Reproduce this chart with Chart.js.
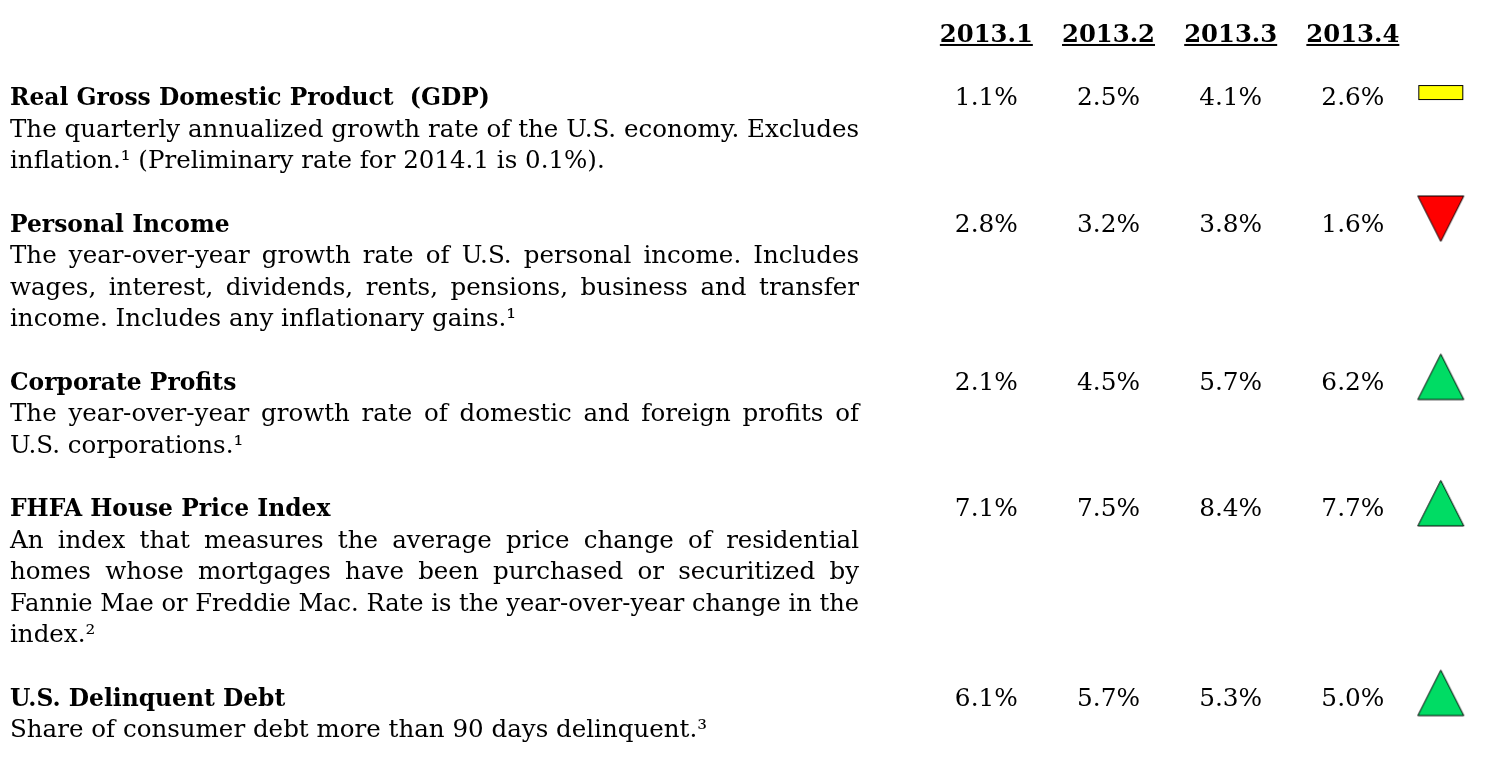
<!DOCTYPE html>
<html>
<head>
<meta charset="utf-8">
<script src="https://cdn.jsdelivr.net/npm/chart.js@4.4.1/dist/chart.umd.min.js"></script>
<style>
  html, body { margin: 0; padding: 0; background: #fff; overflow: hidden; }
  #wrap { width: 1487px; height: 759px; position: relative; }
  #chart { display: block; }
</style>
</head>
<body>
<div id="wrap"><canvas id="chart" width="1487" height="759"></canvas></div>
<script>
// ---- data ----
const quarters = ['2013.1', '2013.2', '2013.3', '2013.4'];
const indicators = [
    'Real Gross Domestic Product  (GDP)',
    'Personal Income',
    'Corporate Profits',
    'FHFA House Price Index',
    'U.S. Delinquent Debt'
];
const descriptions = [
    ['The quarterly annualized growth rate of the U.S. economy. Excludes',
     'inflation.\u00b9 (Preliminary rate for 2014.1 is 0.1%).'],
    ['The year-over-year growth rate of U.S. personal income. Includes',
     'wages, interest, dividends, rents, pensions, business and transfer',
     'income. Includes any inflationary gains.\u00b9'],
    ['The year-over-year growth rate of domestic and foreign profits of',
     'U.S. corporations.\u00b9'],
    ['An index that measures the average price change of residential',
     'homes whose mortgages have been purchased or securitized by',
     'Fannie Mae or Freddie Mac. Rate is the year-over-year change in the',
     'index.\u00b2'],
    ['Share of consumer debt more than 90 days delinquent.\u00b3']
];
const q2013_1 = [1.1, 2.8, 2.1, 7.1, 6.1];
const q2013_2 = [2.5, 3.2, 4.5, 7.5, 5.7];
const q2013_3 = [4.1, 3.8, 5.7, 8.4, 5.3];
const q2013_4 = [2.6, 1.6, 6.2, 7.7, 5.0];
const trend = ['flat', 'down', 'up', 'up', 'up'];

// ---- layout ----
const W = 1487, H = 759;
const LINE_H = 32.55, FIRST_BASE = 97;   // text grid
const COL_X = 990, COL_W = 124;          // first quarter column centre, column pitch
const TEXT_LEFT = 10, TEXT_RIGHT = 859;
const HEADER_LINE = -2;
const TREND_COL = 4.72, ICON_DY = -0.4;
const FONT = "'DejaVu Serif', serif";
// widths in the reference, used to size the fonts
const FIT_BODY = ['inflation.\u00b9 (Preliminary rate for 2014.1 is 0.1%).', 595];
const FIT_TITLE = ['Real Gross Domestic Product  (GDP)', 480];
const FIT_VALUE = ['1.1%', 63];
const FIT_HEAD = ['2013.1', 93];

// line index of each indicator title (title + desc lines + one blank line)
const rowLine = [];
let ln = 0;
descriptions.forEach(d => { rowLine.push(ln); ln += d.length + 2; });

// ---- trend icons ----
function makeIcon(kind) {
    const c = document.createElement('canvas');
    const g = c.getContext('2d');
    g.lineWidth = 2.5;
    g.strokeStyle = '#000';
    if (kind === 'flat') {
        c.width = 47; c.height = 17;
        g.fillStyle = '#ffff00';
        g.fillRect(1.5, 1.5, 44, 14);
        g.strokeRect(1.5, 1.5, 44, 14);
        return c;
    }
    c.width = 49; c.height = 49;
    g.beginPath();
    if (kind === 'down') {
        g.moveTo(1.5, 1.5); g.lineTo(47.5, 1.5); g.lineTo(24.5, 47);
        g.fillStyle = '#ff0000';
    } else {
        g.moveTo(24.5, 1.5); g.lineTo(47.5, 47); g.lineTo(1.5, 47);
        g.fillStyle = '#00dc64';
    }
    g.closePath();
    g.fill();
    g.stroke();
    return c;
}
const icons = { flat: makeIcon('flat'), down: makeIcon('down'), up: makeIcon('up') };

// ---- datasets ----
const quarterValues = [q2013_1, q2013_2, q2013_3, q2013_4];
const datasets = quarterValues.map((vals, c) => ({
    label: quarters[c],
    cells: true,
    data: vals.map((v, r) => ({ x: c + 1, y: rowLine[r], v: v })),
    pointRadius: 0,
    showLine: false
}));
datasets.push({
    label: 'trend',
    data: trend.map((t, r) => ({ x: TREND_COL, y: rowLine[r] + ICON_DY })),
    pointStyle: ctx => icons[trend[ctx.dataIndex]],
    pointRadius: 10,
    showLine: false
});

function fitFont(ctx, weight, fit) {
    ctx.font = weight + ' 100px ' + FONT;
    const size = 100 * fit[1] / ctx.measureText(fit[0]).width;
    return weight + ' ' + size.toFixed(2) + 'px ' + FONT;
}

function drawJustified(ctx, text, x, y, width) {
    const natural = ctx.measureText(text).width;
    if (natural >= width) {
        ctx.save();
        ctx.translate(x, y);
        ctx.scale(width / natural, 1);
        ctx.fillText(text, 0, 0);
        ctx.restore();
        return;
    }
    const words = text.split(' ');
    const wordsW = words.reduce((s, w) => s + ctx.measureText(w).width, 0);
    const gap = (width - wordsW) / (words.length - 1);
    let cx = x;
    words.forEach(w => {
        ctx.fillText(w, cx, y);
        cx += ctx.measureText(w).width + gap;
    });
}

const tableText = {
    id: 'tableText',
    afterDatasetsDraw(chart) {
        const ctx = chart.ctx;
        const xs = chart.scales.x, ys = chart.scales.y;
        ctx.save();
        const fBody = fitFont(ctx, 'normal', FIT_BODY);
        const fTitle = fitFont(ctx, 'bold', FIT_TITLE);
        const fValue = fitFont(ctx, 'normal', FIT_VALUE);
        const fHead = fitFont(ctx, 'bold', FIT_HEAD);
        ctx.fillStyle = '#000';
        ctx.textBaseline = 'alphabetic';

        // column headers, underlined
        ctx.font = fHead;
        ctx.textAlign = 'center';
        quarters.forEach((q, c) => {
            const x = xs.getPixelForValue(c + 1);
            const y = ys.getPixelForValue(HEADER_LINE);
            ctx.fillText(q, x, y);
            const w = ctx.measureText(q).width;
            ctx.fillRect(x - w / 2, y + 2, w, 2);
        });

        // indicator titles and descriptions
        ctx.textAlign = 'left';
        indicators.forEach((name, r) => {
            ctx.font = fTitle;
            ctx.fillText(name, TEXT_LEFT, ys.getPixelForValue(rowLine[r]));
            ctx.font = fBody;
            const lines = descriptions[r];
            lines.forEach((t, k) => {
                const y = ys.getPixelForValue(rowLine[r] + k + 1);
                if (k < lines.length - 1) drawJustified(ctx, t, TEXT_LEFT, y, TEXT_RIGHT - TEXT_LEFT);
                else ctx.fillText(t, TEXT_LEFT, y);
            });
        });

        // cell values
        ctx.font = fValue;
        ctx.textAlign = 'center';
        chart.data.datasets.forEach((ds, i) => {
            if (!ds.cells) return;
            chart.getDatasetMeta(i).data.forEach((el, j) => {
                ctx.fillText(ds.data[j].v.toFixed(1) + '%', el.x, el.y);
            });
        });
        ctx.restore();
    }
};

const canvas = document.getElementById('chart');
new Chart(canvas.getContext('2d'), {
    type: 'scatter',
    data: { datasets: datasets },
    options: {
        responsive: false,
        animation: false,
        events: [],
        layout: { padding: 0 },
        plugins: { legend: { display: false }, tooltip: { enabled: false } },
        scales: {
            x: {
                type: 'linear', display: false,
                min: 1 - COL_X / COL_W,
                max: 1 + (W - COL_X) / COL_W
            },
            y: {
                type: 'linear', display: false, reverse: true,
                min: -FIRST_BASE / LINE_H,
                max: (H - FIRST_BASE) / LINE_H
            }
        }
    },
    plugins: [tableText]
});
</script>
</body>
</html>
